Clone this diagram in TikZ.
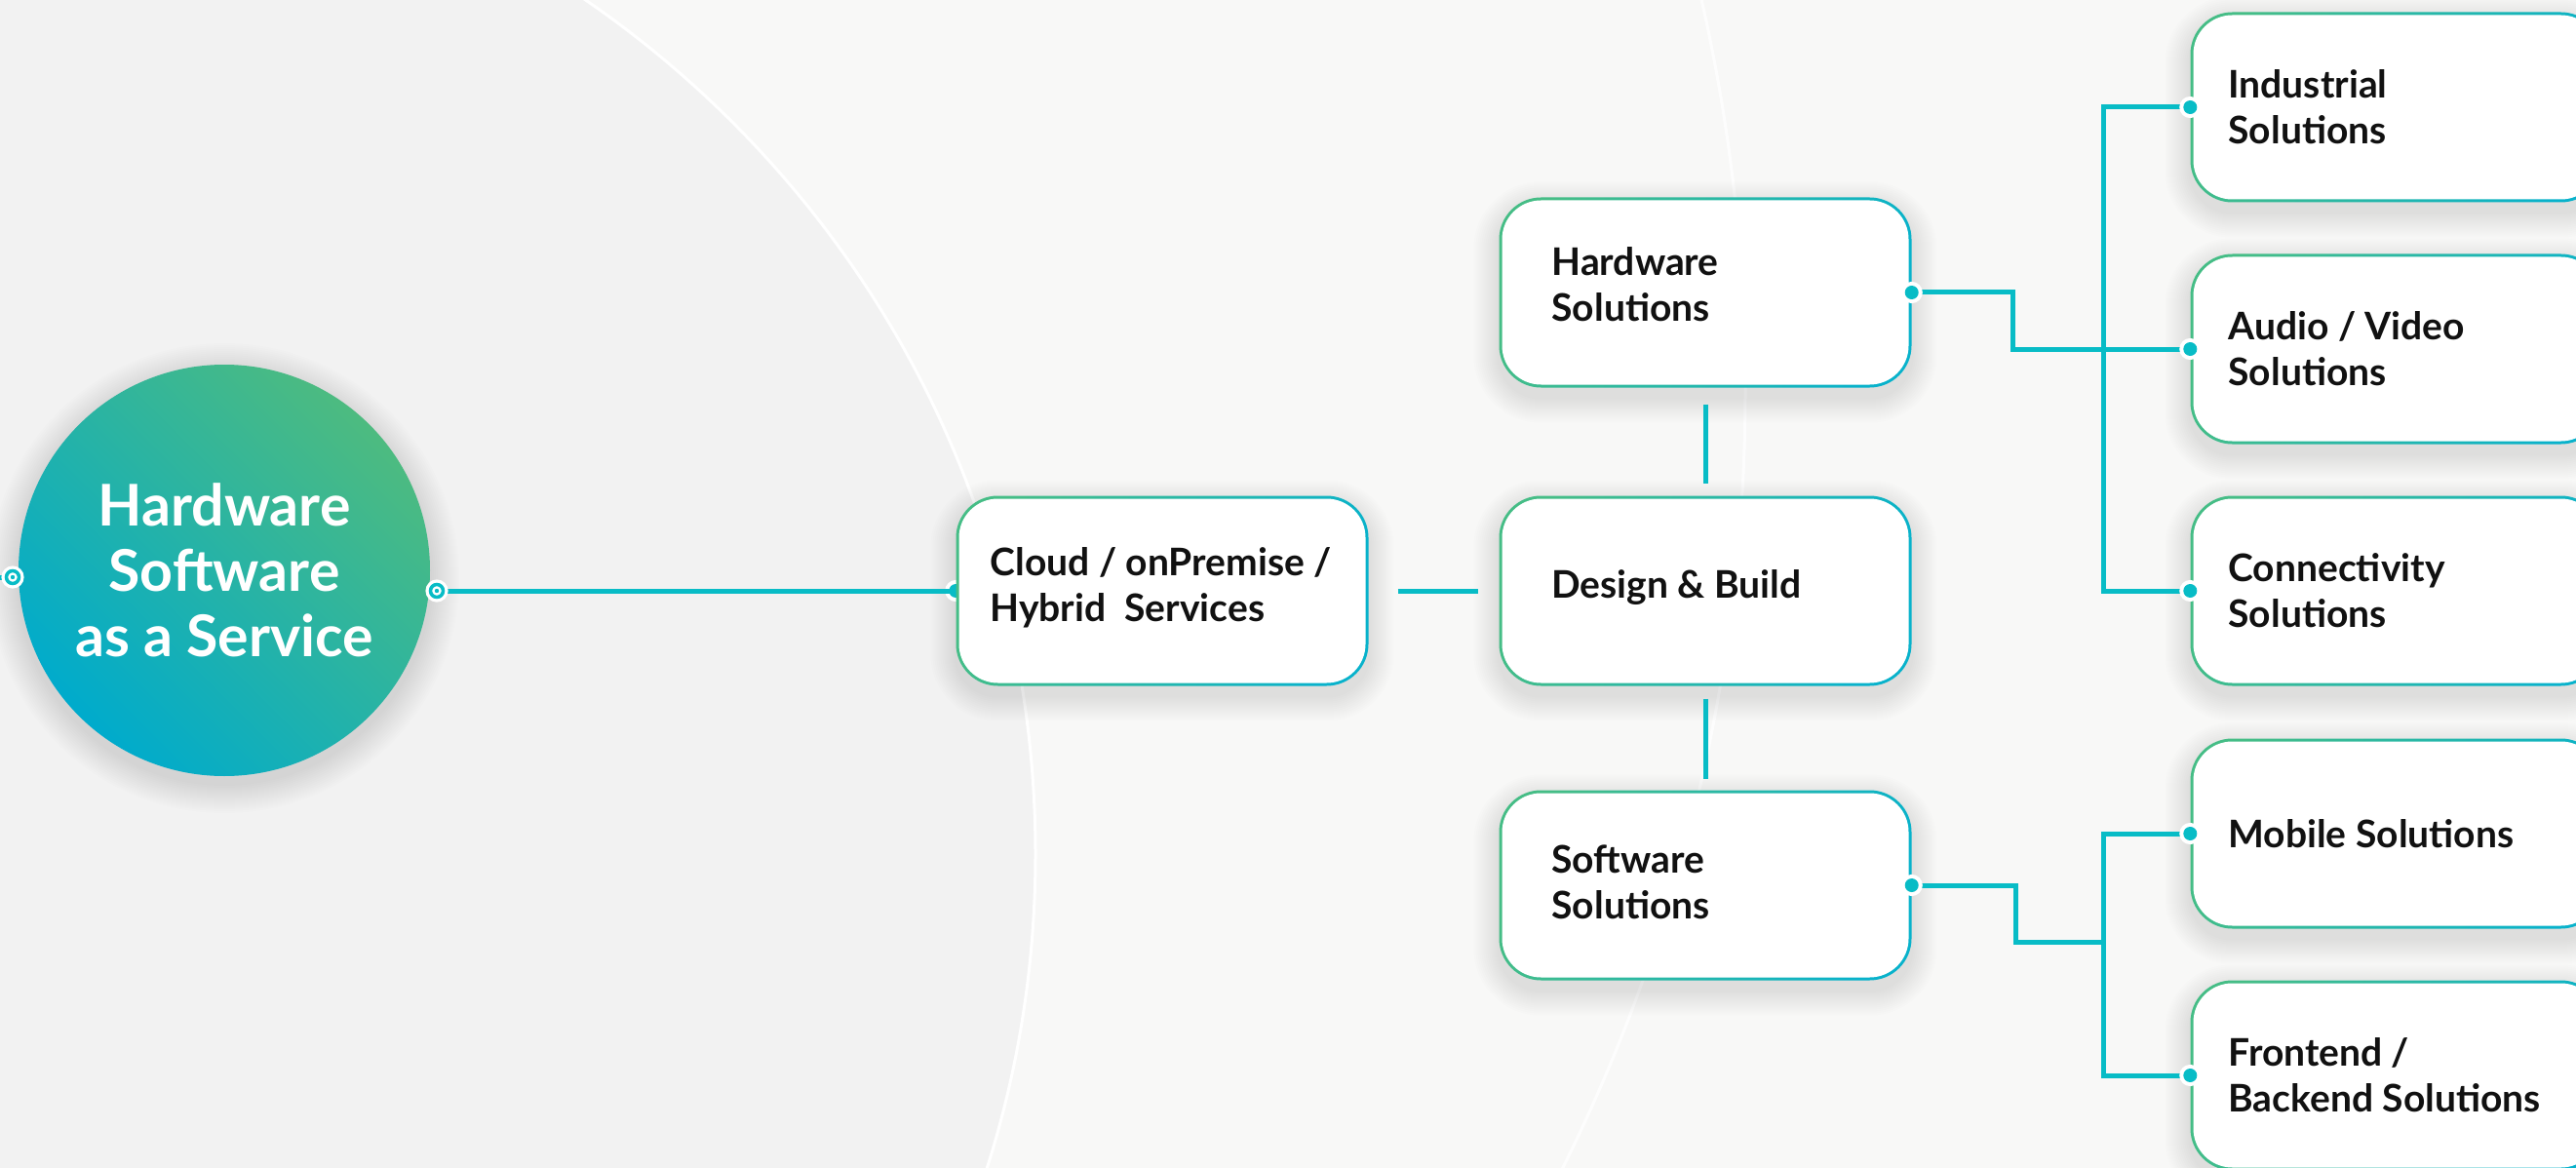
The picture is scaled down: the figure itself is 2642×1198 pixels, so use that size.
\documentclass[tikz,border=0pt]{standalone}
\usepackage{fontspec}
\setmainfont{Lato}
\usetikzlibrary{calc}
\definecolor{bgc}{HTML}{F8F8F7}
\definecolor{bgin}{HTML}{F2F2F2}
\definecolor{lin}{HTML}{08BCC6}
\definecolor{grn}{HTML}{45BD86}
\definecolor{blu}{HTML}{08B2CB}
\definecolor{cgreen}{HTML}{4DBB80}
\definecolor{cblue}{HTML}{00ABCC}
\definecolor{txt}{HTML}{111111}
\pgfdeclarelayer{bglayer}
\pgfdeclarelayer{shadlayer}
\pgfdeclarelayer{lines}
\pgfsetlayers{bglayer,shadlayer,lines,main}
\begin{document}
\begin{tikzpicture}[x=1pt,y=-1pt,
  conn/.style={draw=lin, line width=5pt},
  boxbase/.style={rectangle, rounded corners=43pt, minimum width=423pt, minimum height=195pt,
    inner sep=0pt, left color=grn, right color=blu, shading angle=70,
    path picture={\fill[white, rounded corners=40pt]
      ([shift={(3pt,-3pt)}]path picture bounding box.north west) rectangle
      ([shift={(-3pt,3pt)}]path picture bounding box.south east);}},
  lbl/.style={anchor=west, inner sep=0pt, align=left, text=txt,
    font=\fontsize{39}{47}\selectfont\bfseries},
  bdot/.style={circle, fill=lin, minimum size=14pt, inner sep=0pt,
    preaction={draw=white, line width=8pt}},
  cdot/.style={circle, fill=white, draw=lin, line width=3.5pt, minimum size=13pt, inner sep=0pt,
    preaction={draw=white, line width=10pt},
    path picture={\fill[lin] (path picture bounding box.center) circle[radius=2.2pt];}},
]
\useasboundingbox (0,0) rectangle (2642,1198);
\begin{pgfonlayer}{bglayer}
  \fill[bgc] (0,0) rectangle (2642,1198);
  \fill[bgin] (0,876) circle[radius=1062pt];
  \draw[white, line width=3pt] (0,876) circle[radius=1062pt];
  \draw[white, line width=3pt, opacity=0.8] (0,400) circle[radius=1790pt];
\end{pgfonlayer}

% main circle
\node[circle, minimum size=422pt, inner sep=0pt, top color=cgreen, bottom color=cblue, shading angle=-45,
  align=center, text=white, font=\fontsize{59}{67}\selectfont\bfseries]
  (circ) at (230,585) {Hardware\\Software\\as a Service};

% boxes
\node[boxbase] (cloud) at (1192,606) {};
\node[boxbase] (design) at (1749,606) {};
\node[boxbase] (hw) at (1749,300) {};
\node[boxbase] (sw) at (1749,908) {};
\node[boxbase] (ind) at (2458,110) {};
\node[boxbase] (av) at (2458,358) {};
\node[boxbase] (con) at (2458,606) {};
\node[boxbase] (mob) at (2458,855) {};
\node[boxbase] (fe) at (2458,1103) {};

% soft shadows
\begin{pgfonlayer}{shadlayer}
  \foreach \s in {2,4,...,30}{
    \fill[black, opacity=0.008] ([yshift=-8pt]circ.center) circle[radius=211pt+\s pt];
  }
  \foreach \n in {cloud,design,hw,sw,ind,av,con,mob,fe}{
    \foreach \s in {2,4,...,26}{
      \fill[black, opacity=0.009, rounded corners=43pt+\s pt]
        ([shift={(-\s pt,\s pt-10pt)}]\n.north west) rectangle
        ([shift={(\s pt,-\s pt-10pt)}]\n.south east);
    }
  }
\end{pgfonlayer}

% labels
\node[lbl] (tcloud) at ([xshift=35pt,yshift=3pt]cloud.west) {Cloud / onPremise /\\Hybrid\ \ Services};
\node[lbl] (tdesign) at ([xshift=54pt,yshift=3pt]design.west) {Design \& Build};
\node[lbl] (thw) at ([xshift=54pt,yshift=8pt]hw.west) {Hardware\\Solutions};
\node[lbl] (tsw) at ([xshift=54pt,yshift=3pt]sw.west) {Software\\Solutions};
\node[lbl] (tind) at ([xshift=39pt]ind.west) {Industrial\\Solutions};
\node[lbl] (tav) at ([xshift=39pt]av.west) {Audio / Video\\Solutions};
\node[lbl] (tcon) at ([xshift=39pt]con.west) {Connectivity\\Solutions};
\node[lbl] (tmob) at ([xshift=39pt]mob.west) {Mobile Solutions};
\node[lbl] (tfe) at ([xshift=39pt]fe.west) {Frontend /\\Backend Solutions};

% connector points
\coordinate (lend) at (0,592);
\coordinate (swj) at (2157,966);

\begin{pgfonlayer}{lines}
  \draw[conn] (lend) -- (13,592);
  \node[bdot] (dcloud) at (cloud.west) {};
  \draw[conn] (448,606) -- (cloud.west);
  \draw[conn] ([xshift=30pt]cloud.east) -- ([xshift=-21pt]design.west);
  \draw[conn] ([yshift=-17pt]hw.south) -- ([yshift=12pt]design.north);
  \draw[conn] ([yshift=-13pt]design.south) -- ([yshift=11pt]sw.north);
  \draw[conn] (hw.east) -- ++(104,0) |- (av.west);
  \draw[conn] (ind.west) -- ++(-89,0) |- (con.west);
  \draw[conn] (sw.east) -- ++(107,0) |- (swj);
  \draw[conn] (mob.west) -- ++(-89,0) |- (fe.west);
\end{pgfonlayer}

% dots
\node[cdot] (dl) at (13,592) {};
\node[cdot] (dr) at (448,606) {};
\node[bdot] (dhw) at (hw.east) {};
\node[bdot] (dsw) at (sw.east) {};
\node[bdot] (dind) at (ind.west) {};
\node[bdot] (dav) at (av.west) {};
\node[bdot] (dcon) at (con.west) {};
\node[bdot] (dmob) at (mob.west) {};
\node[bdot] (dfe) at (fe.west) {};
\end{tikzpicture}
\end{document}
